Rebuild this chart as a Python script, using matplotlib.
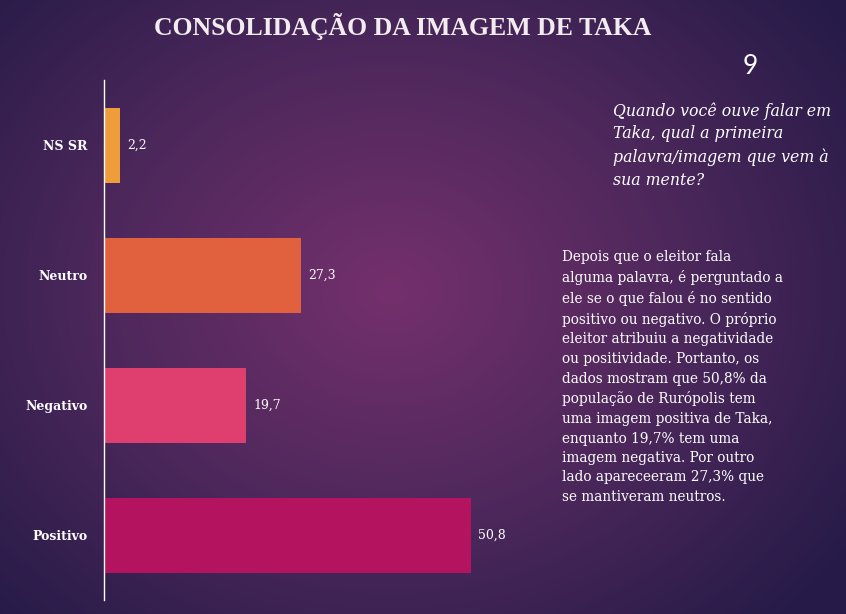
import numpy as np
import matplotlib
matplotlib.use("Agg")
import matplotlib.pyplot as plt
from matplotlib.colors import LinearSegmentedColormap

# data
categories = ["NS SR", "Neutro", "Negativo", "Positivo"]
values = [2.2, 27.3, 19.7, 50.8]
labels = ["2,2", "27,3", "19,7", "50,8"]
colors = ["#ef9c3a", "#e1603d", "#df3f6e", "#b3135f"]

W, H = 846, 614
fig = plt.figure(figsize=(W / 100, H / 100), dpi=100)

# radial gradient background
bg = fig.add_axes([0, 0, 1, 1])
yy, xx = np.mgrid[0:H, 0:W]
r = np.sqrt(((xx - 390) / 560.0) ** 2 + ((yy - 290) / 460.0) ** 2)
r = np.clip(r, 0, 1)
cmap = LinearSegmentedColormap.from_list("bg", ["#74306c", "#4e285c", "#261b48"])
bg.imshow(r, cmap=cmap, aspect="auto", extent=[0, W, H, 0])
bg.axis("off")

serif = ["DejaVu Serif"]

fig.text(403 / W, 1 - 27 / H, "CONSOLIDAÇÃO DA IMAGEM DE TAKA", color="#f2ecef",
         fontsize=18.5, fontweight="bold", family=["Liberation Serif"], ha="center", va="center")
fig.text(750 / W, 1 - 67 / H, "9", color="white", fontsize=19, family=["Lato"],
         ha="center", va="center")
fig.text(613 / W, 1 - 102 / H,
         "Quando você ouve falar em\nTaka, qual a primeira\npalavra/imagem que vem à\nsua mente?",
         color="white", fontsize=11.3, style="italic", family=serif, ha="left", va="top",
         linespacing=1.45)
fig.text(562 / W, 1 - 250 / H,
         "Depois que o eleitor fala\nalguma palavra, é perguntado a\nele se o que falou é no sentido\n"
         "positivo ou negativo. O próprio\neleitor atribuiu a negatividade\nou positividade. Portanto, os\n"
         "dados mostram que 50,8% da\npopulação de Rurópolis tem\numa imagem positiva de Taka,\n"
         "enquanto 19,7% tem uma\nimagem negativa. Por outro\nlado apareceeram 27,3% que\nse mantiveram neutros.",
         color="white", fontsize=9.8, family=serif, ha="left", va="top", linespacing=1.5)

# bar axes
ax = fig.add_axes([104 / W, 1 - 600 / H, 480 / W, 520 / H])
ax.patch.set_alpha(0)
px_per_unit = (471 - 104) / 50.8
ax.set_xlim(0, 480 / px_per_unit)
ax.set_ylim(3.5, -0.5)
y = np.arange(len(categories))
ax.barh(y, values, height=75 / 130, color=colors)
for yi, v, lab in zip(y, values, labels):
    ax.text(v + 1, yi, lab, color="white", fontsize=9, family=serif, va="center", ha="left")
ax.set_yticks(y)
ax.set_yticklabels(categories, color="white", fontsize=9, family=serif, fontweight="bold")
ax.tick_params(axis="y", length=0, pad=12)
ax.set_xticks([])
for s in ["top", "right", "bottom"]:
    ax.spines[s].set_visible(False)
ax.spines["left"].set_color("white")
ax.spines["left"].set_linewidth(1)

fig.savefig("out.png", dpi=100)
